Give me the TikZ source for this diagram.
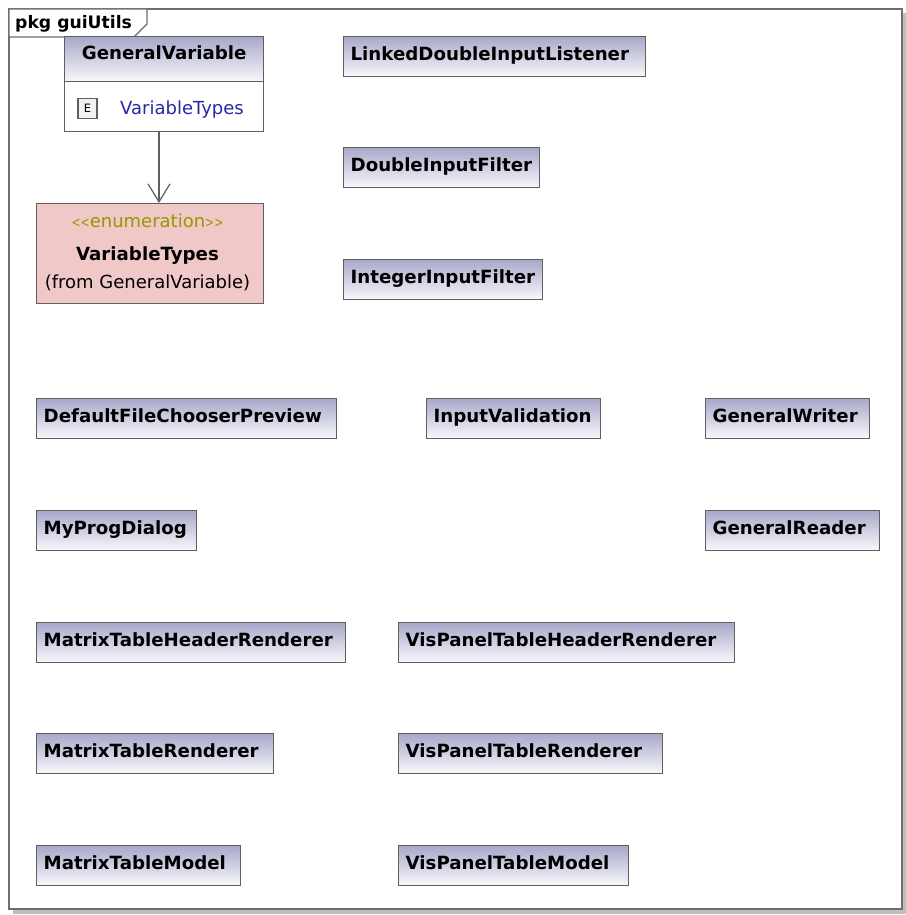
\documentclass[tikz,border=0pt]{standalone}
\usepackage{fontspec}
\setmainfont{DejaVu Sans}
\usetikzlibrary{arrows.meta,calc}

\definecolor{boxtop}{RGB}{168,168,202}
\definecolor{boxbot}{RGB}{248,248,252}
\definecolor{edge}{RGB}{95,95,95}
\definecolor{frameedge}{RGB}{110,110,110}
\definecolor{shadowgray}{RGB}{190,190,190}
\definecolor{enumfill}{RGB}{240,200,200}
\definecolor{stereo}{RGB}{150,150,0}
\definecolor{attr}{RGB}{40,40,165}

\tikzset{
  umlfont/.style={font=\fontsize{18}{21}\selectfont},
  clsbox/.style={draw=edge, line width=1.3pt, top color=boxtop, bottom color=boxbot,
    minimum height=40pt, inner xsep=7pt, inner ysep=0pt,
    text height=8pt, text depth=0pt,
    font=\fontsize{18.2}{21}\selectfont\bfseries},
  plainbox/.style={draw=edge, line width=1.3pt, inner sep=0pt},
  label text/.style={inner sep=0pt, umlfont},
  nav/.style={draw=edge, line width=1.3pt,
    -{Straight Barb[length=18pt, width=22pt, line width=1.2pt]}},
}

% simple class box: name, left x, top y, width, class name
\newcommand\classbox[5]{%
  \node[clsbox, anchor=north west, minimum width=#4pt] (#1) at (#2,#3)
    {\makebox[\dimexpr #4pt-14pt\relax][l]{#5}};}
% narrow guillemet-like angle brackets of the stereotype
\newcommand\stlt{\scalebox{0.6}[0.8]{<}}
\newcommand\stgt{\scalebox{0.6}[0.8]{>}}

\begin{document}
\begin{tikzpicture}[x=1pt, y=-1pt]
  \useasboundingbox (0,0) rectangle (905,915);

  % package frame with drop shadow and name tab
  \fill[shadowgray] (13,13) rectangle (906,914);
  \draw[frameedge, line width=1.5pt, fill=white] (9,9) rectangle (902,909);
  \draw[frameedge, line width=1.2pt, fill=white]
    (9,9) -- (147,9) -- (147,24) -- (134,37) -- (9,37) -- cycle;
  \node[label text, font=\fontsize{17.2}{20}\selectfont\bfseries, anchor=base west]
    (pkg) at (15,29) {pkg guiUtils};

  % GeneralVariable with its nested enumeration
  \node[plainbox, top color=boxtop, bottom color=boxbot, anchor=north west,
        minimum width=199pt, minimum height=45pt,
        text height=1pt, text depth=0pt,
        font=\fontsize{18.2}{21}\selectfont\bfseries]
    (gvh) at (64,36) {GeneralVariable};
  \node[plainbox, fill=white, anchor=north west,
        minimum width=199pt, minimum height=50pt] (gvb) at (64,81) {};
  \node[draw=edge, line width=1.2pt, fill=black!5, minimum width=19pt,
        minimum height=20pt, inner sep=0pt,
        font=\fontsize{11.5}{12}\selectfont] (eic) at (87.5,108.5) {E};
  \node[label text, text=attr, anchor=base west] (gvattr) at (120,115) {VariableTypes};

  % enumeration VariableTypes
  \node[plainbox, fill=enumfill, anchor=north west,
        minimum width=227pt, minimum height=100pt] (vt) at (36,203) {};
  \node[label text, text=stereo, anchor=base] (vtst) at (147.5,227)
    {\stlt\stlt enumeration\stgt\stgt};
  \node[label text, font=\fontsize{18.2}{21}\selectfont\bfseries, anchor=base]
    (vtname) at (147.5,260) {VariableTypes};
  \node[label text, anchor=base] (vtfrom) at (147.5,288) {(from GeneralVariable)};

  % navigable association from the attribute to its type
  \coordinate (ax) at (159,0);
  \draw[nav] (gvb.south -| ax) -- (vt.north -| ax);

  % remaining classes of the package
  \classbox{ldil}{343}{36}{302}{LinkedDoubleInputListener}
  \classbox{dif}{343}{147}{196}{DoubleInputFilter}
  \classbox{iif}{343}{259}{199}{IntegerInputFilter}
  \classbox{dfcp}{36}{398}{300}{DefaultFileChooserPreview}
  \classbox{iv}{426}{398}{174}{InputValidation}
  \classbox{gw}{705}{398}{164}{GeneralWriter}
  \classbox{mpd}{36}{510}{160}{MyProgDialog}
  \classbox{gr}{705}{510}{174}{GeneralReader}
  \classbox{mthr}{36}{622}{309}{MatrixTableHeaderRenderer}
  \classbox{vpthr}{398}{622}{336}{VisPanelTableHeaderRenderer}
  \classbox{mtr}{36}{733}{237}{MatrixTableRenderer}
  \classbox{vptr}{398}{733}{264}{VisPanelTableRenderer}
  \classbox{mtm}{36}{845}{204}{MatrixTableModel}
  \classbox{vptm}{398}{845}{230}{VisPanelTableModel}
\end{tikzpicture}
\end{document}
